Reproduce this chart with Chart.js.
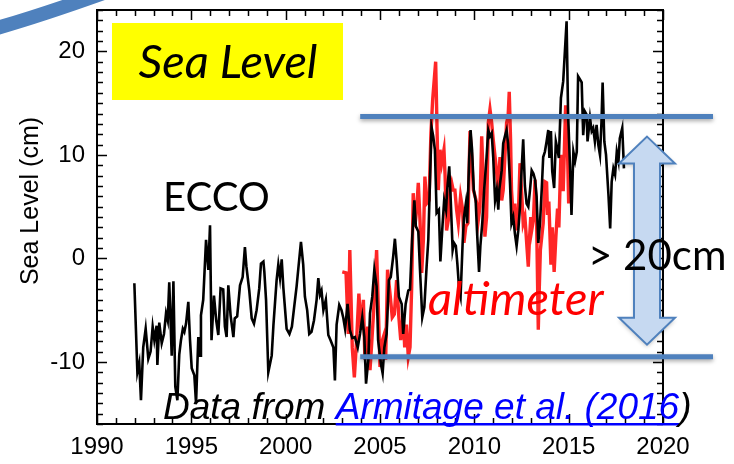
<!DOCTYPE html>
<html>
<head>
<meta charset="utf-8">
<script src="https://cdn.jsdelivr.net/npm/chart.js@4"></script>
<style>
  html, body { margin: 0; padding: 0; background: #fff; }
  #wrap { width: 734px; height: 464px; }
</style>
</head>
<body>
<div id="wrap"><canvas id="myChart" width="734" height="464"></canvas></div>
<script>
// ECCO model sea level (cm)
const eccoYears = [
  1991.98, 1992.14, 1992.24, 1992.33, 1992.45, 1992.58, 1992.72, 1992.84, 1992.95, 1993.04,
  1993.16, 1993.20, 1993.30, 1993.43, 1993.55, 1993.66, 1993.75, 1993.83, 1993.90, 1993.96,
  1994.05, 1994.15, 1994.26, 1994.36, 1994.45, 1994.55, 1994.63, 1994.72, 1994.84, 1994.93,
  1995.02, 1995.16, 1995.25, 1995.37, 1995.46, 1995.51, 1995.63, 1995.78, 1995.90, 1995.99,
  1996.07, 1996.20, 1996.32, 1996.43, 1996.55, 1996.69, 1996.78, 1996.87, 1996.96, 1997.08,
  1997.23, 1997.30, 1997.43, 1997.58, 1997.72, 1997.84, 1997.92, 1998.07, 1998.20, 1998.32,
  1998.46, 1998.60, 1998.69, 1998.82, 1998.87, 1998.96, 1999.08, 1999.26, 1999.35, 1999.52,
  1999.61, 1999.70, 1999.79, 1999.88, 2000.05, 2000.20, 2000.33, 2000.45, 2000.58, 2000.67,
  2000.81, 2000.93, 2001.02, 2001.14, 2001.25, 2001.37, 2001.50, 2001.64, 2001.73, 2001.82,
  2001.90, 2002.00, 2002.13, 2002.26, 2002.38, 2002.53, 2002.61, 2002.70, 2002.84, 2002.96,
  2003.05, 2003.15, 2003.28, 2003.40, 2003.53, 2003.67, 2003.82, 2003.94, 2004.06, 2004.17,
  2004.26, 2004.38, 2004.47, 2004.59, 2004.70, 2004.82, 2004.90, 2005.05, 2005.14, 2005.23,
  2005.35, 2005.47, 2005.57, 2005.70, 2005.79, 2005.88, 2006.00, 2006.15, 2006.23, 2006.36,
  2006.50, 2006.59, 2006.71, 2006.82, 2006.90, 2007.03, 2007.12, 2007.24, 2007.35, 2007.47,
  2007.56, 2007.65, 2007.73, 2007.82, 2007.91, 2008.00, 2008.12, 2008.20, 2008.32, 2008.40,
  2008.50, 2008.56, 2008.67, 2008.75, 2008.85, 2008.92, 2009.02, 2009.10, 2009.20, 2009.27,
  2009.38, 2009.45, 2009.55, 2009.62, 2009.73, 2009.80, 2009.88, 2009.97, 2010.07, 2010.14,
  2010.25, 2010.32, 2010.42, 2010.52, 2010.65, 2010.74, 2010.83, 2010.92, 2011.00, 2011.10,
  2011.19, 2011.27, 2011.32, 2011.45, 2011.53, 2011.62, 2011.71, 2011.79, 2011.89, 2011.97,
  2012.06, 2012.15, 2012.24, 2012.33, 2012.42, 2012.47, 2012.59, 2012.68, 2012.77, 2012.86,
  2012.95, 2013.04, 2013.13, 2013.22, 2013.30, 2013.39, 2013.48, 2013.57, 2013.65, 2013.74,
  2013.83, 2013.92, 2013.98, 2014.06, 2014.13, 2014.23, 2014.32, 2014.41, 2014.48, 2014.59,
  2014.71, 2014.80, 2014.89, 2014.97, 2015.07, 2015.15, 2015.25, 2015.34, 2015.43, 2015.50,
  2015.60, 2015.69, 2015.77, 2015.86, 2015.95, 2016.00, 2016.13, 2016.22, 2016.30, 2016.39,
  2016.48, 2016.57, 2016.66, 2016.74, 2016.80, 2016.89, 2016.98, 2017.11, 2017.20, 2017.28,
  2017.37, 2017.46, 2017.55, 2017.64, 2017.71, 2017.84, 2017.93
];
const eccoCm = [
  -2.4, -11.0, -10.1, -13.7, -8.6, -6.8, -9.7, -9.0, -6.6, -7.9,
  -6.5, -10.3, -6.2, -8.2, -7.3, -5.3, -6.0, -2.3, -6.1, -9.4,
  -2.2, -12.4, -13.7, -9.3, -7.9, -6.8, -7.1, -6.3, -4.2, -7.9,
  -10.6, -11.3, -14.0, -7.6, -9.4, -5.5, -4.0, 1.8, -1.1, 3.2,
  -7.9, -3.6, -6.0, -7.4, -2.9, -3.0, -6.6, -7.6, -2.6, -5.5,
  -7.6, -5.8, -5.6, -2.6, -1.8, 1.1, -0.8, -3.1, -5.8, -6.3,
  -5.0, -2.9, -0.5, -0.3, -1.3, -4.0, -11.0, -9.4, -6.5, -2.1,
  -0.6, -1.9, -0.1, -2.9, -6.8, -7.3, -6.6, -4.7, -2.7, -1.0,
  1.6, -0.6, -3.7, -5.0, -7.3, -7.1, -6.0, -4.0, -1.9, -3.5,
  -3.1, -5.0, -4.0, -7.4, -7.9, -8.6, -11.8, -6.4, -4.5, -5.0,
  -5.7, -6.8, -4.4, -6.9, -7.7, -7.6, -8.6, -7.3, -5.7, -7.6,
  -12.1, -9.8, -5.3, -3.7, -1.1, -2.7, -7.9, -10.2, -11.1, -8.6,
  -7.3, -2.1, -1.8, 0.2, 1.9, -0.2, -3.7, -4.4, -7.3, -4.4,
  -3.1, -3.0, 2.1, 5.6, 3.1, 2.6, -1.1, -5.7, -4.7, -0.8,
  1.8, 7.6, 12.7, 11.8, 10.5, 4.4, 4.7, -0.3, 3.4, 5.6,
  4.7, 6.6, 8.9, 5.6, 0.8, 1.5, 1.2, -0.5, -3.1, -3.7,
  1.5, 4.0, 5.3, 3.4, 9.8, 12.4, 10.5, 6.6, 5.6, 2.7,
  -1.3, 1.2, 3.4, 6.6, 9.8, 12.4, 11.8, 12.1, 9.8, 5.6,
  6.6, 4.7, 6.6, 8.5, 11.1, 11.8, 12.4, 11.1, 7.3, 3.4,
  4.0, 2.4, 1.2, 2.7, 5.0, 7.3, 11.5, 7.0, 5.3, 5.0,
  6.6, 8.5, 8.2, 7.6, 6.0, 1.5, 3.4, 6.6, 9.8, 10.3,
  11.3, 12.4, 9.7, 12.3, 8.4, 6.8, 11.3, 10.5, 9.7, 15.5,
  17.1, 20.0, 22.9, 13.9, 9.0, 4.2, 10.3, 9.4, 10.3, 17.6,
  17.3, 17.0, 11.9, 14.2, 13.9, 11.3, 13.6, 12.3, 12.6, 11.3,
  12.9, 11.0, 10.0, 13.2, 17.0, 11.3, 10.0, 6.1, 2.9, 7.4,
  8.7, 8.1, 10.3, 9.4, 11.6, 12.6, 8.7
];

// satellite altimeter sea level (cm)
const altYears = [
  2003.00, 2003.20, 2003.32, 2003.40, 2003.53, 2003.64, 2003.76, 2003.88, 2003.99, 2004.12,
  2004.20, 2004.35, 2004.47, 2004.59, 2004.70, 2004.82, 2004.91, 2005.00, 2005.13, 2005.23,
  2005.30, 2005.40, 2005.53, 2005.65, 2005.76, 2005.88, 2006.00, 2006.10, 2006.23, 2006.31,
  2006.40, 2006.50, 2006.59, 2006.68, 2006.76, 2006.85, 2006.94, 2007.03, 2007.12, 2007.21,
  2007.30, 2007.38, 2007.47, 2007.60, 2007.70, 2007.79, 2007.95, 2008.09, 2008.18, 2008.27,
  2008.39, 2008.45, 2008.53, 2008.62, 2008.71, 2008.80, 2008.88, 2008.97, 2009.06, 2009.15,
  2009.27, 2009.38, 2009.45, 2009.55, 2009.66, 2009.77, 2009.86, 2009.95, 2010.04, 2010.13,
  2010.21, 2010.30, 2010.39, 2010.48, 2010.56, 2010.65, 2010.74, 2010.83, 2010.92, 2011.00,
  2011.10, 2011.19, 2011.27, 2011.36, 2011.45, 2011.53, 2011.62, 2011.71, 2011.79, 2011.85,
  2011.92, 2011.97, 2012.06, 2012.15, 2012.24, 2012.33, 2012.42, 2012.51, 2012.59, 2012.68,
  2012.73, 2012.80, 2012.86, 2012.92, 2012.99, 2013.04, 2013.13, 2013.22, 2013.30, 2013.39,
  2013.44, 2013.50, 2013.65, 2013.74, 2013.83, 2013.88, 2013.95, 2014.06, 2014.13, 2014.23,
  2014.32, 2014.41, 2014.48, 2014.59, 2014.71, 2014.84, 2014.95, 2015.00
];
const altCm = [
  -1.3, -1.4, -7.3, 0.8, -8.6, -11.5, -7.9, -3.4, -6.9, -4.0,
  -9.8, -6.6, -10.8, -7.3, -4.0, 0.8, -4.7, -10.5, -7.9, -7.3,
  -9.8, -1.1, -3.4, -5.7, -5.4, -2.1, -5.7, -7.9, -5.4, -8.6,
  -6.4, -9.5, -8.6, -2.7, 6.3, 3.1, 4.7, 7.3, 3.7, -1.4,
  1.8, 7.9, 5.3, 5.6, 12.1, 15.3, 19.0, 6.6, 10.5, 9.2,
  10.5, 8.0, 2.7, 3.7, 6.6, 7.3, 6.6, 6.6, 4.7, 3.4,
  6.0, 4.7, 1.5, 3.1, 3.4, 12.3, 9.8, 6.6, 6.0, 5.3,
  3.7, 5.0, 11.8, 7.3, 2.1, 4.0, 13.1, 14.4, 13.1, 11.5,
  9.8, 8.2, 6.6, 9.8, 5.6, 6.6, 9.8, 13.1, 13.7, 16.1,
  11.5, 6.6, 4.0, 5.3, 2.7, 4.0, 9.2, 6.3, 3.4, 4.0,
  2.7, 0.8, -0.8, 1.8, 4.0, 2.7, 3.7, 7.6, 3.7, -6.9,
  -3.1, 0.8, 3.4, 7.4, 7.3, 4.2, 5.5, -0.6, 3.0, -1.3,
  2.0, 4.8, 3.0, 10.0, 6.5, 14.8, 9.5, 5.3
];

// axis ticks
const yearTicks = [1990, 1995, 2000, 2005, 2010, 2015, 2020];
const cmTicks = [-10, 0, 10, 20];
// the two reference levels marked by the blue bars
const highLevel = 13.7;
const lowLevel = -9.5;

const toPoints = (xs, ys) => xs.map((x, i) => ({ x: x, y: ys[i] }));

// frame + inward tick marks
const frameTicks = {
  id: 'frameTicks',
  afterDatasetsDraw(chart) {
    const { ctx, chartArea: a, scales: { x, y } } = chart;
    ctx.save();
    ctx.strokeStyle = '#000';
    ctx.lineWidth = 1.5;
    ctx.beginPath();
    for (let yr = 1990; yr <= 2020; yr++) {
      const px = Math.round(x.getPixelForValue(yr)) + 0.5;
      const len = yr % 5 === 0 ? 10 : 6;
      ctx.moveTo(px, a.bottom); ctx.lineTo(px, a.bottom - len);
      ctx.moveTo(px, a.top); ctx.lineTo(px, a.top + len);
    }
    for (let v = -16; v <= 24; v++) {
      const py = Math.round(y.getPixelForValue(v)) + 0.5;
      const len = v % 10 === 0 ? 10 : 6;
      ctx.moveTo(a.left, py); ctx.lineTo(a.left + len, py);
      ctx.moveTo(a.right, py); ctx.lineTo(a.right - len, py);
    }
    ctx.stroke();
    ctx.lineWidth = 2;
    ctx.strokeRect(a.left, a.top, a.right - a.left, a.bottom - a.top);
    ctx.restore();
  }
};

// slide annotations drawn over the plot
const slideNotes = {
  id: 'slideNotes',
  afterDraw(chart) {
    const { ctx, scales: { x, y } } = chart;
    ctx.save();

    // y axis title
    ctx.save();
    ctx.translate(31, 201);
    ctx.rotate(-Math.PI / 2);
    ctx.fillStyle = '#000';
    ctx.font = '25px "Liberation Sans", Arial, sans-serif';
    ctx.textAlign = 'center';
    ctx.textBaseline = 'middle';
    ctx.fillText('Sea Level (cm)', 0, 0);
    ctx.restore();

    // yellow title box
    ctx.fillStyle = '#ffff00';
    ctx.fillRect(112, 23, 231, 77);
    ctx.fillStyle = '#000';
    ctx.font = 'italic 47px Lato, "Open Sans", sans-serif';
    ctx.textAlign = 'center';
    ctx.textBaseline = 'alphabetic';
    ctx.fillText('Sea Level', 228, 78);

    // ECCO label
    ctx.textAlign = 'left';
    ctx.font = '40px Lato, "Open Sans", sans-serif';
    ctx.fillText('ECCO', 163, 211);

    // blue level bars
    ctx.save();
    ctx.shadowColor = 'rgba(0,0,0,0.35)';
    ctx.shadowBlur = 4;
    ctx.shadowOffsetY = 2;
    ctx.strokeStyle = '#4f81bd';
    ctx.lineWidth = 5;
    [highLevel, lowLevel].forEach(v => {
      const py = y.getPixelForValue(v);
      ctx.beginPath();
      ctx.moveTo(x.getPixelForValue(2003.95), py);
      ctx.lineTo(713, py);
      ctx.stroke();
    });
    ctx.restore();

    // double arrow between the bars
    const top = y.getPixelForValue(highLevel) + 20;
    const bot = y.getPixelForValue(lowLevel) - 12;
    const cx = 647, hw = 28, sw = 13, hh = 27;
    ctx.save();
    ctx.shadowColor = 'rgba(0,0,0,0.25)';
    ctx.shadowBlur = 4;
    ctx.shadowOffsetY = 2;
    ctx.beginPath();
    ctx.moveTo(cx, top);
    ctx.lineTo(cx + hw, top + hh);
    ctx.lineTo(cx + sw, top + hh);
    ctx.lineTo(cx + sw, bot - hh);
    ctx.lineTo(cx + hw, bot - hh);
    ctx.lineTo(cx, bot);
    ctx.lineTo(cx - hw, bot - hh);
    ctx.lineTo(cx - sw, bot - hh);
    ctx.lineTo(cx - sw, top + hh);
    ctx.lineTo(cx - hw, top + hh);
    ctx.closePath();
    ctx.fillStyle = '#c6d9f1';
    ctx.fill();
    ctx.restore();
    ctx.strokeStyle = '#4f81bd';
    ctx.lineWidth = 2;
    ctx.stroke();

    // > 20cm
    ctx.fillStyle = '#000';
    ctx.font = '42px Lato, "Open Sans", sans-serif';
    ctx.textAlign = 'left';
    ctx.fillText('> 20cm', 588, 270);

    // altimeter label
    ctx.fillStyle = '#ff0000';
    ctx.font = 'italic 47px Lato, "Open Sans", sans-serif';
    ctx.fillText('altimeter', 428, 315);

    // source line
    ctx.font = 'italic 37px "Liberation Sans", Arial, sans-serif';
    ctx.fillStyle = '#000';
    const x0 = 163, base = 419;
    const p1 = 'Data from ', p2 = 'Armitage et al. (2016', p3 = ')';
    ctx.fillText(p1, x0, base);
    const w1 = ctx.measureText(p1).width;
    const w2 = ctx.measureText(p2).width;
    ctx.fillStyle = '#0000ff';
    ctx.fillText(p2, x0 + w1, base);
    ctx.fillRect(x0 + w1, base + 4, w2, 2.5);
    ctx.fillStyle = '#000';
    ctx.fillText(p3, x0 + w1 + w2, base);

    // slide decoration in the corner
    ctx.strokeStyle = '#4f81bd';
    ctx.lineWidth = 14;
    ctx.beginPath();
    ctx.moveTo(-10, 30);
    ctx.quadraticCurveTo(40, 16, 112, -10);
    ctx.stroke();

    ctx.restore();
  }
};

new Chart(document.getElementById('myChart'), {
  type: 'line',
  data: {
    datasets: [{
      label: 'ECCO',
      data: toPoints(eccoYears, eccoCm),
      borderColor: '#000000',
      borderWidth: 2.6,
      pointRadius: 0,
      tension: 0
    }, {
      label: 'altimeter',
      data: toPoints(altYears, altCm),
      borderColor: '#ff2626',
      borderWidth: 3.4,
      pointRadius: 0,
      tension: 0
    }]
  },
  options: {
    responsive: false,
    animation: false,
    layout: { padding: { top: 10, right: 71, bottom: 0, left: 0 } },
    plugins: {
      legend: { display: false },
      tooltip: { enabled: false }
    },
    scales: {
      x: {
        type: 'linear',
        min: 1990,
        max: 2020,
        grid: { display: false, drawTicks: false },
        border: { display: false },
        afterBuildTicks: s => { s.ticks = yearTicks.map(v => ({ value: v })); },
        afterFit: s => { s.height = 40; s.paddingLeft = 0; s.paddingRight = 0; },
        ticks: {
          color: '#000',
          padding: 9,
          maxRotation: 0,
          autoSkip: false,
          font: { family: '"Liberation Sans", Arial, sans-serif', size: 24 },
          callback: v => String(v)
        }
      },
      y: {
        min: -16,
        max: 24,
        grid: { display: false, drawTicks: false },
        border: { display: false },
        afterBuildTicks: s => { s.ticks = cmTicks.map(v => ({ value: v })); },
        afterFit: s => { s.width = 97; s.paddingTop = 0; s.paddingBottom = 0; },
        ticks: {
          color: '#000',
          padding: 12,
          font: { family: '"Liberation Sans", Arial, sans-serif', size: 24 },
          callback: v => String(v)
        }
      }
    }
  },
  plugins: [frameTicks, slideNotes]
});
</script>
</body>
</html>
